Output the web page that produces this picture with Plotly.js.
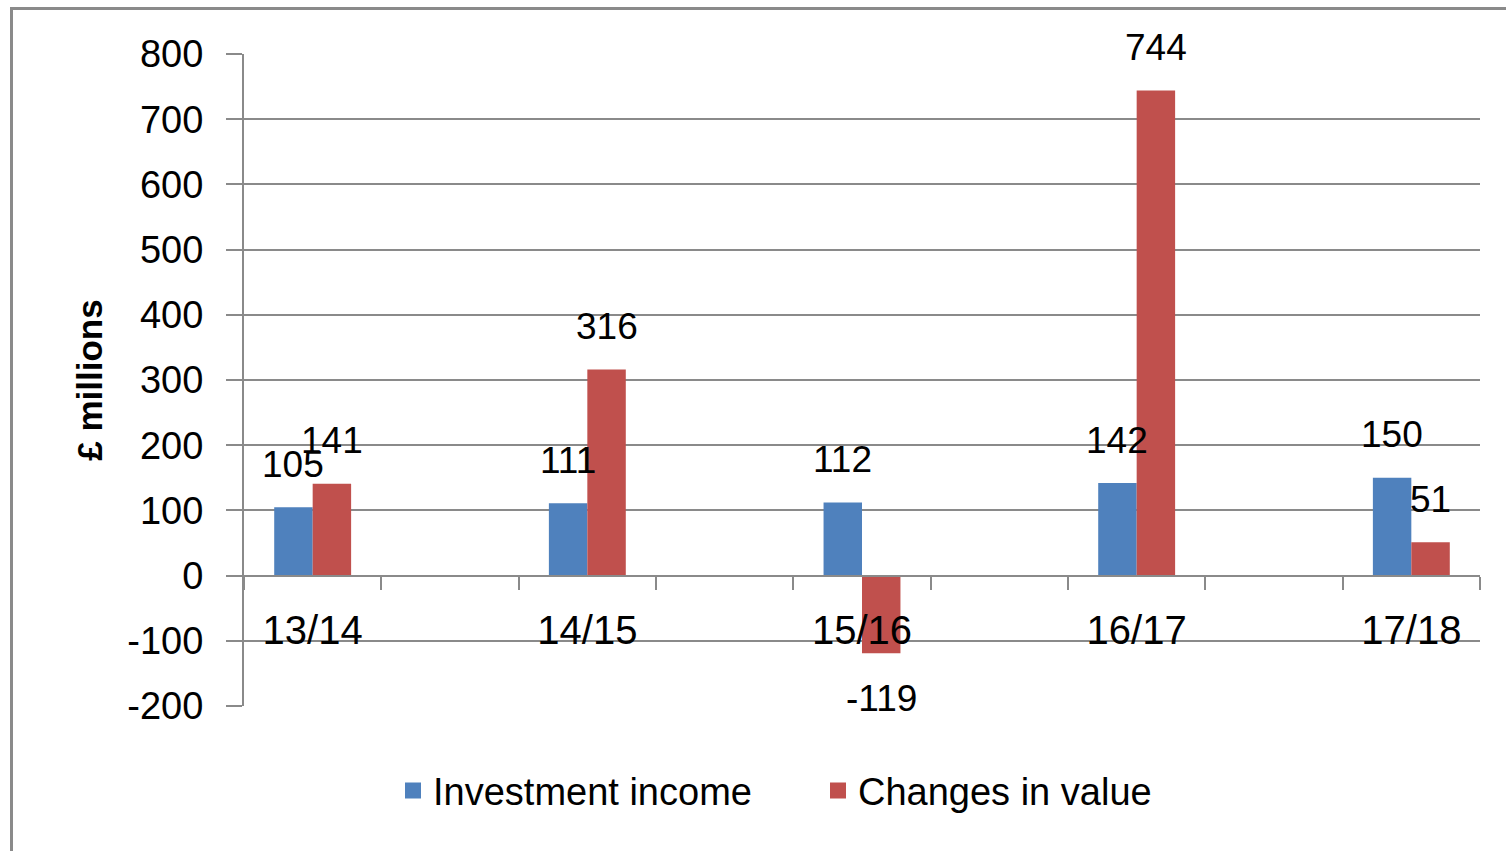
<!DOCTYPE html>
<html>
<head>
<meta charset="utf-8">
<script src="https://cdn.plot.ly/plotly-3.0.1.min.js"></script>
<style>
  html, body { margin: 0; padding: 0; background: #fff; }
  #wrap { position: relative; width: 1506px; height: 851px; overflow: hidden; }
  #frame { position: absolute; left: 10px; top: 7px; width: 1600px; height: 900px;
           border-left: 3px solid #8a8a8a; border-top: 3px solid #8a8a8a; pointer-events: none; }
  #chart { position: absolute; left: 0; top: 0; width: 1506px; height: 851px; }
</style>
</head>
<body>
<div id="wrap">
  <div id="chart"></div>
  <div id="frame"></div>
</div>
<script>
// Data
const categories = ['13/14', '14/15', '15/16', '16/17', '17/18'];
const investmentIncome = [105, 111, 112, 142, 150];
const changesInValue = [141, 316, -119, 744, 51];
const seriesNames = ['Investment income', 'Changes in value'];
const yTickVals = [-200, -100, 0, 100, 200, 300, 400, 500, 600, 700, 800];
const yTickText = yTickVals.map(v => String(v));

const blue = '#4F81BD';
const red = '#C0504D';
const grid = '#8a8a8a';
const FONT = '"Liberation Sans", Arial, sans-serif';

// categories sit on every other slot (empty slots between them)
const xPos = categories.map((c, i) => i * 2);
const barW = 0.28;

const traces = [
  {
    type: 'bar', x: xPos, y: investmentIncome, name: seriesNames[0],
    width: barW, offset: -barW, marker: { color: blue }, showlegend: false,
    hoverinfo: 'y'
  },
  {
    type: 'bar', x: xPos, y: changesInValue, name: seriesNames[1],
    width: barW, offset: 0, marker: { color: red }, showlegend: false,
    hoverinfo: 'y'
  },
  // legend entries
  {
    type: 'scatter', mode: 'markers', x: [null], y: [null], name: seriesNames[0],
    marker: { symbol: 'square', size: 16, color: blue }
  },
  {
    type: 'scatter', mode: 'markers', x: [null], y: [null], name: seriesNames[1],
    marker: { symbol: 'square', size: 16, color: red }
  }
];

const annotations = [];
function addLabels(vals, dx) {
  vals.forEach((v, i) => {
    annotations.push({
      x: xPos[i] + dx, y: v, xref: 'x', yref: 'y',
      text: String(v), showarrow: false,
      xanchor: 'center', yanchor: 'middle',
      yshift: v >= 0 ? 43 : -45,
      font: { family: FONT, size: 37, color: '#000' }
    });
  });
}
addLabels(investmentIncome, -barW / 2);
addLabels(changesInValue, barW / 2);

const layout = {
  width: 1506, height: 851,
  margin: { l: 244, r: 26, t: 54, b: 145 },
  paper_bgcolor: 'rgba(0,0,0,0)', plot_bgcolor: 'rgba(0,0,0,0)',
  barmode: 'overlay',
  font: { family: FONT, size: 37, color: '#000' },
  showlegend: true,
  legend: {
    orientation: 'h', x: (405 - 244 - 12) / 1236, xanchor: 'left', y: -0.13, yanchor: 'middle',
    entrywidth: 380, entrywidthmode: 'pixels',
    font: { family: FONT, size: 38, color: '#000' },
    itemclick: false, itemdoubleclick: false
  },
  xaxis: {
    range: [-0.5, 8.5],
    tickmode: 'array', tickvals: xPos, ticktext: categories,
    ticks: '', showgrid: false, zeroline: false,
    showline: true, linecolor: grid, linewidth: 2,
    anchor: 'free', position: 0.2,
    ticklabelstandoff: 19,
    tickfont: { family: FONT, size: 40, color: '#000' },
    minor: { tickmode: 'linear', tick0: -0.5, dtick: 1, ticks: 'outside', ticklen: 13, tickwidth: 2, tickcolor: grid, showgrid: false }
  },
  yaxis: {
    range: [-200, 800], domain: [0, 1],
    tickmode: 'array', tickvals: yTickVals, ticktext: yTickText,
    ticks: 'outside', ticklen: 16, tickwidth: 2, tickcolor: grid,
    showgrid: true, gridcolor: grid, gridwidth: 2,
    zeroline: false, showline: true, linecolor: grid, linewidth: 2,
    ticklabelstandoff: 15,
    tickfont: { family: FONT, size: 38, color: '#000' },
    title: { text: '<b>£ millions</b>', font: { family: FONT, size: 35, color: '#000' }, standoff: 14 }
  },
  annotations: annotations
};

Plotly.newPlot('chart', traces, layout, { staticPlot: true, displayModeBar: false });
</script>
</body>
</html>
